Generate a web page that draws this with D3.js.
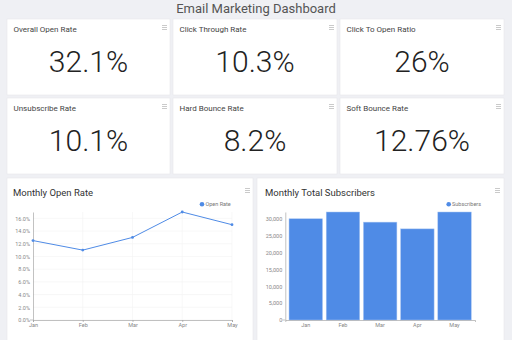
<!DOCTYPE html>
<html><head><meta charset="utf-8">
<script src="https://cdn.jsdelivr.net/npm/d3@7"></script>
<style>
html,body{margin:0;padding:0;background:#eff0f4;}
svg{display:block;font-family:Roboto, "Noto Sans", sans-serif;}
</style></head>
<body>
<svg id="c" width="512" height="340"></svg>
<script>
const kpiTitles = ["Overall Open Rate","Click Through Rate","Click To Open Ratio","Unsubscribe Rate","Hard Bounce Rate","Soft Bounce Rate"];
const kpiValues = ["32.1%","10.3%","26%","10.1%","8.2%","12.76%"];
const months = ["Jan","Feb","Mar","Apr","May"];
const openRate = [12.5, 11.0, 13.0, 17.0, 15.0];
const subscribers = [30000, 32000, 29000, 27000, 32000];
const openRateTicks = [0,2,4,6,8,10,12,14,16];
const subTicks = [0,5000,10000,15000,20000,25000,30000];

const svg = d3.select("#c");
svg.append("rect").attr("width",512).attr("height",340).attr("fill","#eff0f4");
svg.append("text").attr("x",256).attr("y",12.5).attr("text-anchor","middle")
  .attr("font-size",13).attr("fill","#555").text("Email Marketing Dashboard");

function menu(g,x,y){
  [0,2,4].forEach(d=>g.append("rect").attr("x",x).attr("y",y+d).attr("width",5).attr("height",0.9).attr("fill","#c4c4c4"));
}
function card(x,y,w,h){
  const g = svg.append("g").attr("transform",`translate(${x},${y})`);
  g.append("rect").attr("width",w).attr("height",h).attr("fill","#fff").attr("stroke","#e6e7eb").attr("stroke-width",0.6);
  return g;
}
const cols = [[7,163],[173,164],[340,164]];
const rows = [[19,76],[98,76]];
kpiTitles.forEach((t,i)=>{
  const c = cols[i%3], r = rows[Math.floor(i/3)];
  const g = card(c[0],r[0],c[1],r[1]);
  g.append("text").attr("x",6.5).attr("y",12.5).attr("font-size",8).attr("fill","#444").text(t);
  menu(g,c[1]-8,6);
  g.append("text").attr("x",c[1]/2).attr("y",53).attr("text-anchor","middle")
    .attr("font-size",30).attr("font-weight",300).attr("fill","#222").text(kpiValues[i]);
});

// Line chart card
{
  const g = card(7,178,246,170);
  g.append("text").attr("x",6).attr("y",18).attr("font-size",9.5).attr("fill","#333").text("Monthly Open Rate");
  menu(g,238,10);
  const x = d3.scalePoint().domain(months).range([33,232]);
  const y = d3.scaleLinear().domain([0,17]).range([320,212]);
  const p = svg.append("g");
  p.selectAll("line.h").data(openRateTicks).join("line").attr("x1",33).attr("x2",232)
    .attr("y1",d=>y(d)).attr("y2",d=>y(d)).attr("stroke","#f1f1f1").attr("stroke-width",0.6);
  p.selectAll("line.v").data(months.slice(1)).join("line").attr("x1",d=>x(d)).attr("x2",d=>x(d))
    .attr("y1",212).attr("y2",320).attr("stroke","#f3f3f3").attr("stroke-width",0.6);
  const ya = p.append("g").attr("transform","translate(33,0)")
    .call(d3.axisLeft(y).tickValues(openRateTicks).tickFormat(d=>d.toFixed(1)+"%").tickSize(0).tickPadding(3));
  ya.select(".domain").attr("stroke","#999").attr("stroke-width",0.6);
  ya.selectAll("text").attr("font-size",5.5).attr("fill","#888").attr("font-family","Roboto");
  const xa = p.append("g").attr("transform","translate(0,320)")
    .call(d3.axisBottom(x).tickSize(2).tickPadding(1.5).tickSizeOuter(2));
  xa.select(".domain").attr("stroke","#999").attr("stroke-width",0.6);
  xa.selectAll("line").attr("stroke","#999").attr("stroke-width",0.6);
  xa.selectAll("text").attr("font-size",5.5).attr("fill","#888").attr("font-family","Roboto");
  p.append("line").attr("x1",30).attr("x2",33).attr("y1",320).attr("y2",320).attr("stroke","#999").attr("stroke-width",0.6);
  const line = d3.line().x((d,i)=>x(months[i])).y(d=>y(d));
  p.append("path").datum(openRate).attr("d",line).attr("fill","none").attr("stroke","#4f8be6").attr("stroke-width",1);
  p.selectAll("circle").data(openRate).join("circle").attr("cx",(d,i)=>x(months[i])).attr("cy",d=>y(d)).attr("r",1.4).attr("fill","#4f8be6");
  p.append("circle").attr("cx",202).attr("cy",204.3).attr("r",2.3).attr("fill","#4f8be6");
  p.append("text").attr("x",205.5).attr("y",206.3).attr("font-size",5.5).attr("fill","#777").text("Open Rate");
}

// Bar chart card
{
  const g = card(257,178,247,170);
  g.append("text").attr("x",8).attr("y",18).attr("font-size",9.5).attr("fill","#333").text("Monthly Total Subscribers");
  menu(g,238,10);
  const x = d3.scaleBand().domain(months).range([285.3,475]).paddingInner(0.1).paddingOuter(0.1);
  const y = d3.scaleLinear().domain([0,32000]).range([320,212]);
  const p = svg.append("g");
  p.selectAll("rect.b").data(subscribers).join("rect").attr("x",(d,i)=>x(months[i])).attr("y",d=>y(d))
    .attr("width",x.bandwidth()).attr("height",d=>320-y(d)).attr("fill","#4f8be6")
    .attr("stroke","#a9c6f2").attr("stroke-width",0.5);
  const ya = p.append("g").attr("transform","translate(285.3,0)")
    .call(d3.axisLeft(y).tickValues(subTicks).tickFormat(d3.format(",")).tickSize(0).tickPadding(3));
  ya.select(".domain").attr("stroke","#999").attr("stroke-width",0.6);
  ya.selectAll("text").attr("font-size",5.5).attr("fill","#888").attr("font-family","Roboto");
  const xa = p.append("g").attr("transform","translate(0,320)")
    .call(d3.axisBottom(x).tickSize(0).tickPadding(3.5).tickSizeOuter(2));
  xa.select(".domain").attr("stroke","#999").attr("stroke-width",0.6);
  xa.selectAll("text").attr("font-size",5.5).attr("fill","#888").attr("font-family","Roboto");
  p.append("line").attr("x1",282.3).attr("x2",285.3).attr("y1",320).attr("y2",320).attr("stroke","#999").attr("stroke-width",0.6);
  p.append("circle").attr("cx",448.7).attr("cy",204.3).attr("r",2.3).attr("fill","#4f8be6");
  p.append("text").attr("x",452).attr("y",206.3).attr("font-size",5.5).attr("fill","#777").text("Subscribers");
}
</script>
</body></html>
